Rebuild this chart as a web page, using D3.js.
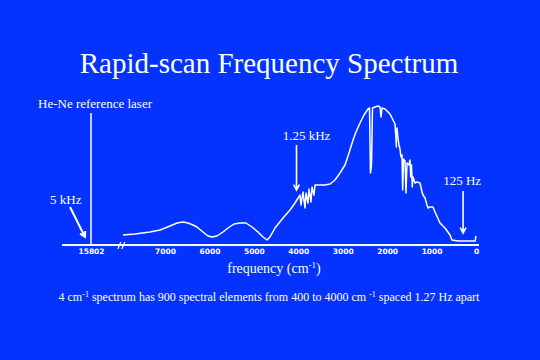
<!DOCTYPE html>
<html><head><meta charset="utf-8">
<script src="https://cdn.jsdelivr.net/npm/d3@7"></script>
<style>html,body{margin:0;padding:0;background:#0433FF;overflow:hidden}</style>
</head><body>
<script>
const wavenumber = [7945,7675,7338,7113,6887,6730,6595,6482,6370,6280,6145,6032,5942,5830,5695,5582,5447,5312,5177,5042,4907,4794,4704,4637,4524,4344,4186,4074,3961,3939,3894,3849,3826,3781,3759,3714,3691,3646,3624,3579,3399,3286,3174,3061,2949,2859,2768,2701,2611,2521,2431,2397,2375,2352,2330,2273,2206,2161,2138,2116,2048,1936,1868,1823,1790,1801,1778,1756,1733,1711,1688,1666,1650,1632,1598,1576,1553,1508,1486,1470,1452,1434,1418,1373,1328,1260,1215,1193,1148,1103,1080,1035,968,923,810,698,585,540,405,248,135,20,0];
const intensity  = [10,11,13,15,19,22,23,22,20,18,13,9,8,9,13,17,21,22,22,18,13,8,5,8,17,27,35,42,50,40,53,37,52,42,56,43,58,50,60,60,60,61,65,72,80,92,105,113,122,130,136,137,72,80,137,138,139,138,128,137,136,131,125,121,98,112,117,106,100,96,88,90,55,86,84,52,82,80,85,68,80,58,68,62,63,62,53,50,47,40,37,38,38,33,22,17,10,5,4,4,4,4,9];
const tickValues = [15802,7000,6000,5000,4000,3000,2000,1000,0];
const tickLabels = ["15802","7000","6000","5000","4000","3000","2000","1000","0"];
const laserWavenumber = 15802;
const laserIntensity = 132;
const annotations = [
  {text:"5 kHz", wn:15802, dx:-6, at:8, from:[-15,-30], lx:-35, ly:-33, anchor:"start", sw:2},
  {text:"1.25 kHz", wn:4040, dx:0, at:55, from:[0,-45], lx:10, ly:-50, anchor:"middle", sw:1.6},
  {text:"125 Hz", wn:290, dx:0, at:12, from:[0,-42], lx:-1, ly:-48, anchor:"middle", sw:1.6}
];
const title = "Rapid-scan Frequency Spectrum";

const W=540,H=360;
const svg=d3.select("body").append("svg").attr("width",W).attr("height",H);
svg.append("rect").attr("width",W).attr("height",H).attr("fill","#0433FF");

const x=d3.scaleLinear().domain([15802,7950,0]).range([91,122.8,476]);
const y=d3.scaleLinear().domain([0,140]).range([245,105]);
const serif="'Liberation Serif','Times New Roman',serif";

svg.append("text").attr("x",269).attr("y",73).attr("text-anchor","middle")
  .attr("font-family",serif).attr("font-size",29).attr("fill","#fff").text(title);

// axis
const axisY=245;
const ax=svg.append("g").attr("transform",`translate(0,${axisY})`)
  .call(d3.axisBottom(x).tickValues(tickValues).tickFormat((d,i)=>tickLabels[i]).tickSize(0).tickPadding(4));
ax.select(".domain").remove();
ax.selectAll("text").attr("fill","#fff").attr("font-family","'DejaVu Sans',sans-serif").attr("font-size",7.5).attr("font-weight","bold");
svg.append("line").attr("x1",62).attr("x2",479).attr("y1",axisY).attr("y2",axisY).attr("stroke","#fff").attr("stroke-width",2);
// break marks
const bx=x(7950)-3;
[0,4].forEach(o=>svg.append("line").attr("x1",bx+o-2).attr("x2",bx+o+1).attr("y1",axisY+4).attr("y2",axisY-3).attr("stroke","#fff").attr("stroke-width",1.2));

svg.append("text").attr("x",274).attr("y",273).attr("text-anchor","middle").attr("font-family",serif).attr("font-size",14).attr("fill","#fff")
  .html('frequency (cm<tspan dy="-5" font-size="9">-1</tspan><tspan dy="5">)</tspan>');

// laser line
svg.append("line").attr("x1",x(laserWavenumber)).attr("x2",x(laserWavenumber)).attr("y1",y(0)).attr("y2",y(laserIntensity)).attr("stroke","#fff").attr("stroke-width",1.5);
svg.append("text").attr("x",38).attr("y",108).attr("font-family",serif).attr("font-size",13).attr("fill","#fff").text("He-Ne reference laser");

// spectrum
const pts=wavenumber.map((w,i)=>[w,intensity[i]]);
svg.append("path").datum(pts).attr("fill","none").attr("stroke","#fff").attr("stroke-width",1.5).attr("stroke-linejoin","round")
  .attr("d",d3.line().x(d=>x(d[0])).y(d=>y(d[1])));

// annotations with arrows
const ag=svg.append("g").attr("class","annotations");
annotations.forEach(a=>{
  const tx=x(a.wn)+a.dx, ty=y(a.at);
  const sx=tx+a.from[0], sy=ty+a.from[1];
  const ang=Math.atan2(ty-sy,tx-sx), L=6, sp=0.5;
  const p1=[tx-L*Math.cos(ang-sp),ty-L*Math.sin(ang-sp)], p2=[tx-L*Math.cos(ang+sp),ty-L*Math.sin(ang+sp)];
  ag.append("path").attr("d",`M${sx.toFixed(1)},${sy.toFixed(1)}L${tx.toFixed(1)},${ty.toFixed(1)}M${p1[0].toFixed(1)},${p1[1].toFixed(1)}L${tx.toFixed(1)},${ty.toFixed(1)}L${p2[0].toFixed(1)},${p2[1].toFixed(1)}`)
    .style("fill","none").style("stroke","#ffffff").style("stroke-width",a.sw+"px");
  ag.append("text").attr("x",tx+a.lx).attr("y",ty+a.ly).attr("text-anchor",a.anchor)
    .attr("font-family",serif).attr("font-size",13).attr("fill","#fff").text(a.text);
});

svg.append("text").attr("x",269).attr("y",301).attr("text-anchor","middle").attr("font-family",serif).attr("font-size",12).attr("fill","#fff")
  .html('4 cm<tspan dy="-4" font-size="8">-1</tspan><tspan dy="4"> spectrum has 900 spectral elements from 400 to 4000 cm </tspan><tspan dy="-4" font-size="8">-1</tspan><tspan dy="4"> spaced 1.27 Hz apart</tspan>');
</script>
</body></html>
